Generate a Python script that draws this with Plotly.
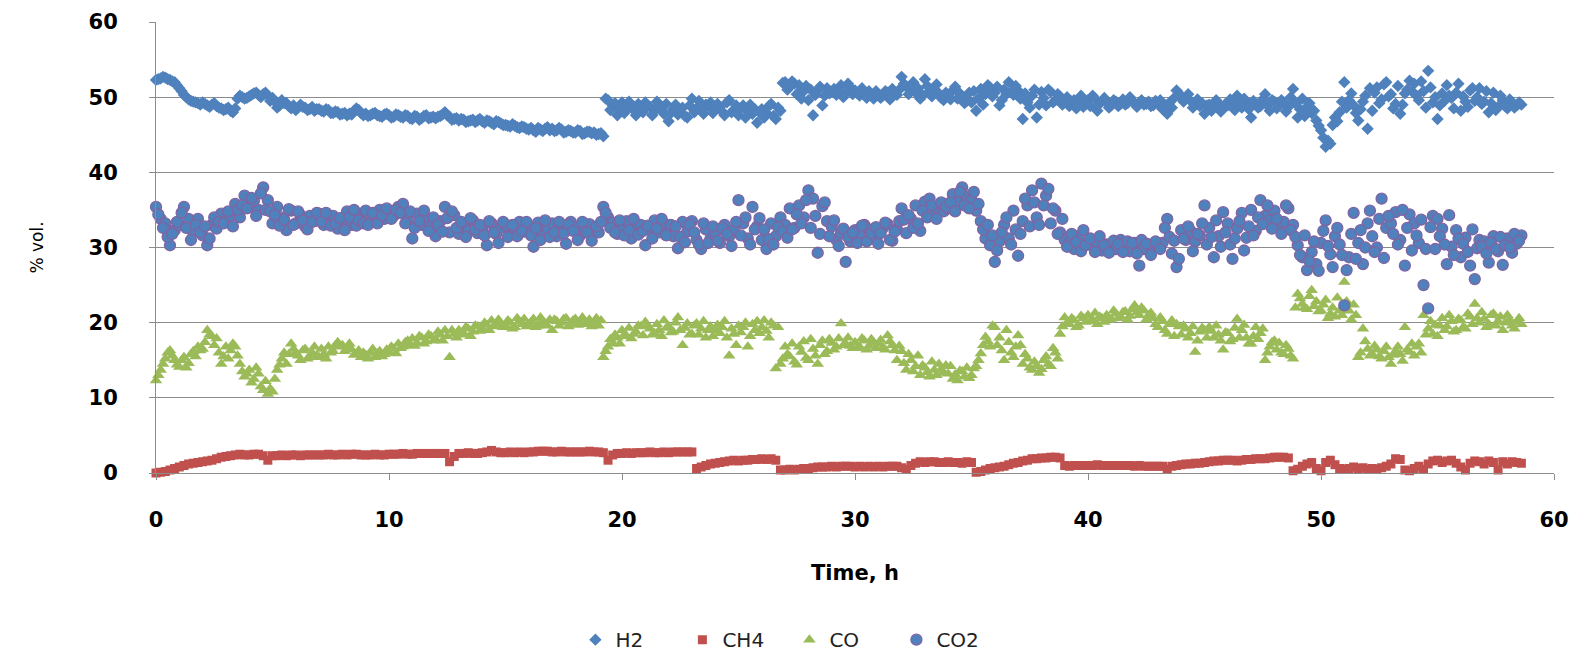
import plotly.graph_objects as go

# Sampling times (h): readings every 0.2 h from 0 to 58.6 h (pass A)
time_h = [round(0.2 * i, 1) for i in range(294)]
# and the interleaved readings at 0.1, 0.3, ... 58.5 h (pass B)
time_h_b = [round(0.2 * i + 0.1, 1) for i in range(293)]

h2_pct = [
    52.3, 52.5, 52.6, 52.3, 52.0,
    51.2, 50.3, 49.7, 49.4, 49.2,
    49.3, 48.9, 49.0, 48.8, 48.5,
    48.4, 48.2, 48.5, 50.2, 49.8,
    50.1, 50.5, 50.3, 50.4, 50.2,
    49.9, 48.6, 49.6, 49.2, 48.5,
    48.3, 49.0, 48.6, 48.4, 48.2,
    48.4, 48.1, 48.3, 47.9, 48.0,
    47.8, 47.6, 47.7, 48.5, 47.9,
    47.8, 47.6, 47.9, 47.5, 47.7,
    47.6, 47.4, 47.6, 47.3, 47.5,
    47.1, 47.4, 47.2, 47.6, 47.3,
    47.2, 47.5, 48.0, 47.4, 47.1,
    46.9, 47.0, 46.8, 47.0, 46.9,
    46.8, 46.9, 46.6, 46.8, 46.5,
    46.3, 46.1, 46.2, 45.9, 46.0,
    45.7, 45.6, 45.9, 45.5, 46.0,
    45.8, 45.6, 45.7, 45.4, 45.5,
    45.3, 45.5, 45.2, 45.4, 45.3,
    45.1, 44.8, 49.6, 48.9, 47.6,
    49.3, 48.6, 49.0, 47.6, 48.8,
    49.3, 48.7, 48.2, 49.0, 47.8,
    46.8, 48.4, 47.7, 48.6, 47.3,
    49.8, 48.5, 48.2, 49.0, 49.3,
    48.4, 48.7, 47.6, 49.6, 48.3,
    47.6, 48.9, 48.1, 47.8, 46.6,
    48.4, 47.9, 49.1, 47.1, 48.2,
    52.0, 51.4, 51.8, 51.6, 50.8,
    49.6, 47.6, 50.9, 48.9, 51.2,
    50.7, 50.3, 51.6, 50.6, 51.3,
    50.9, 50.2, 50.7, 50.8, 49.8,
    50.4, 50.2, 50.6, 51.1, 50.3,
    52.7, 51.4, 51.1, 50.6, 49.8,
    52.4, 50.8, 51.1, 50.5, 49.6,
    50.2, 50.9, 49.8, 50.1, 49.5,
    49.3, 48.2, 51.1, 50.4, 51.3,
    50.6, 48.9, 51.0, 52.0, 50.3,
    50.9, 47.1, 49.3, 50.2, 47.3,
    50.7, 48.9, 50.7, 49.6, 50.1,
    49.3, 48.8, 49.6, 49.1, 48.7,
    49.6, 50.2, 48.2, 49.5, 49.3,
    48.9, 49.4, 49.1, 49.0, 50.0,
    49.2, 49.3, 49.0, 49.4, 48.9,
    49.1, 48.4, 47.8, 48.6, 50.9,
    50.2, 49.8, 49.5, 49.1, 48.8,
    47.8, 49.0, 48.7, 49.2, 48.5,
    48.9, 49.4, 50.2, 48.6, 49.3,
    47.3, 49.0, 48.8, 50.4, 48.2,
    49.4, 48.9, 49.3, 48.7, 51.1,
    47.3, 49.8, 48.7, 47.9, 46.9,
    45.6, 43.4, 43.8, 47.3, 48.0,
    52.0, 49.6, 48.9, 46.9, 49.4,
    45.8, 48.2, 51.3, 49.7, 52.0,
    50.4, 49.1, 47.8, 50.5, 52.2,
    51.8, 49.6, 50.8, 53.5, 49.3,
    47.1, 50.5, 51.6, 49.9, 50.6,
    48.2, 49.4, 50.9, 49.5, 51.2,
    49.4, 48.0, 50.6, 48.7, 49.6,
    48.5, 49.1, 48.9, 49.0,
]

h2_pct_b = [
    52.4, 52.7, 52.4, 52.1, 51.6,
    50.8, 50.0, 49.5, 49.3, 49.0,
    49.1, 48.7, 49.2, 48.6, 48.3,
    48.6, 48.0, 49.8, 50.0, 49.9,
    50.3, 50.6, 50.0, 50.6, 49.5,
    49.4, 48.9, 49.2, 48.8, 48.9,
    48.6, 48.7, 48.3, 48.7, 48.4,
    48.2, 48.4, 47.9, 48.1, 47.7,
    47.9, 47.8, 48.2, 48.3, 47.6,
    47.5, 47.8, 47.6, 47.4, 47.8,
    47.3, 47.7, 47.4, 47.6, 47.2,
    47.5, 47.0, 47.5, 47.2, 47.4,
    47.4, 47.7, 47.6, 47.0, 47.2,
    47.1, 46.7, 46.9, 46.7, 47.1,
    46.6, 46.8, 46.4, 46.7, 46.3,
    46.2, 46.4, 46.0, 46.1, 45.8,
    45.9, 45.4, 45.7, 45.8, 45.6,
    45.5, 45.9, 45.3, 45.6, 45.3,
    45.6, 45.1, 45.4, 45.2, 45.0,
    45.2, 49.8, 48.3, 49.2, 48.4,
    47.9, 49.4, 48.3, 49.1, 48.0,
    48.9, 47.6, 49.4, 48.3, 49.1,
    47.9, 49.0, 48.1, 47.5, 48.9,
    48.0, 49.5, 47.8, 48.8, 47.9,
    49.1, 48.1, 49.3, 48.0, 48.9,
    48.5, 47.3, 49.0, 48.4, 48.0,
    47.3, 48.8, 47.5, 48.6, 51.9,
    51.0, 52.1, 50.4, 49.8, 51.5,
    51.0, 50.3, 51.4, 50.2, 50.5,
    51.1, 50.9, 50.0, 51.8, 50.4,
    50.5, 51.2, 49.9, 50.3, 50.8,
    49.9, 50.8, 49.7, 50.5, 51.0,
    51.8, 50.4, 52.0, 51.2, 50.3,
    51.5, 50.1, 51.7, 49.9, 50.6,
    49.7, 51.4, 50.5, 49.2, 50.6,
    50.8, 49.8, 49.0, 51.6, 50.1,
    51.4, 49.6, 50.4, 50.7, 51.5,
    49.8, 50.5, 48.6, 51.0, 49.0,
    49.9, 51.0, 49.3, 50.4, 49.0,
    50.0, 49.4, 48.5, 50.2, 49.4,
    48.8, 49.8, 49.1, 49.9, 48.6,
    49.6, 48.8, 49.7, 49.2, 49.5,
    48.7, 49.6, 49.1, 48.8, 49.5,
    49.6, 48.9, 49.3, 49.9, 50.2,
    49.4, 50.4, 48.6, 49.7, 49.2,
    48.9, 48.2, 49.6, 48.1, 49.1,
    49.7, 48.3, 49.0, 49.8, 48.4,
    49.5, 48.6, 49.7, 48.9, 49.6,
    48.5, 49.6, 48.1, 50.0, 49.2,
    48.4, 47.5, 49.2, 48.2, 46.2,
    44.6, 44.2, 46.3, 46.8, 49.4,
    48.6, 50.5, 47.9, 48.4, 50.2,
    51.2, 50.6, 49.2, 51.7, 50.1,
    48.5, 51.5, 49.0, 51.0, 50.8,
    50.2, 52.1, 48.6, 51.3, 50.0,
    48.9, 49.5, 50.2, 48.5, 51.8,
    50.1, 48.7, 51.2, 50.0, 49.1,
    50.8, 49.2, 48.3, 50.2, 48.8,
    49.7, 48.6, 49.3,
]

ch4_pct = [
    0.0, 0.1, 0.2, 0.4, 0.6,
    0.8, 1.0, 1.2, 1.3, 1.4,
    1.5, 1.6, 1.7, 1.9, 2.1,
    2.2, 2.3, 2.4, 2.5, 2.4,
    2.4, 2.5, 2.5, 2.3, 1.7,
    2.3, 2.3, 2.4, 2.3, 2.4,
    2.4, 2.3, 2.4, 2.4, 2.4,
    2.4, 2.4, 2.5, 2.4, 2.4,
    2.5, 2.4, 2.5, 2.5, 2.4,
    2.4, 2.4, 2.5, 2.4, 2.4,
    2.5, 2.5, 2.5, 2.6, 2.5,
    2.5, 2.6, 2.6, 2.6, 2.6,
    2.6, 2.6, 2.6, 1.5, 2.2,
    2.6, 2.6, 2.7, 2.6, 2.6,
    2.7, 2.8, 3.0, 2.8, 2.7,
    2.7, 2.8, 2.7, 2.8, 2.7,
    2.8, 2.8, 2.9, 2.9, 2.9,
    2.8, 2.8, 2.9, 2.8, 2.8,
    2.8, 2.8, 2.8, 2.9, 2.8,
    2.8, 2.7, 1.7, 2.4, 2.6,
    2.6, 2.7, 2.6, 2.7, 2.7,
    2.7, 2.8, 2.7, 2.7, 2.8,
    2.7, 2.8, 2.8, 2.8, 2.8,
    2.8, 0.6, 0.8, 1.0, 1.2,
    1.3, 1.4, 1.5, 1.6, 1.7,
    1.6, 1.7, 1.7, 1.8, 1.8,
    1.9, 1.8, 1.9, 1.7, 0.4,
    0.4, 0.5, 0.4, 0.5, 0.6,
    0.6, 0.7, 0.8, 0.8, 0.8,
    0.9, 0.8, 0.9, 0.9, 0.9,
    0.8, 0.9, 0.8, 0.9, 0.8,
    0.9, 0.8, 0.9, 0.9, 0.9,
    0.7, 0.5, 1.0, 1.3, 1.5,
    1.4, 1.5, 1.5, 1.4, 1.4,
    1.5, 1.4, 1.4, 1.3, 1.5,
    1.4, 0.1, 0.2, 0.4, 0.6,
    0.7, 0.8, 0.9, 1.1, 1.3,
    1.4, 1.6, 1.7, 1.9, 1.9,
    2.0, 2.0, 2.1, 2.1, 2.0,
    1.0, 0.9, 1.0, 1.0, 1.0,
    1.0, 1.0, 1.1, 1.0, 1.0,
    1.0, 1.0, 1.0, 1.0, 1.0,
    0.9, 1.0, 0.9, 0.9, 0.9,
    0.9, 0.9, 0.5, 0.9, 1.0,
    1.1, 1.2, 1.2, 1.3, 1.3,
    1.4, 1.5, 1.6, 1.6, 1.7,
    1.7, 1.7, 1.6, 1.7, 1.8,
    1.8, 1.9, 1.9, 1.9, 2.0,
    2.1, 2.1, 2.1, 2.0, 0.3,
    0.5, 0.9, 1.2, 1.4, 0.6,
    0.3, 1.4, 1.7, 1.1, 0.6,
    0.5, 0.6, 0.8, 0.6, 0.7,
    0.5, 0.6, 0.5, 0.7, 0.9,
    1.2, 1.9, 1.8, 0.4, 0.3,
    0.6, 0.9, 0.5, 1.2, 1.6,
    1.7, 1.4, 1.6, 1.7, 1.3,
    0.8, 0.4, 1.3, 1.6, 1.5,
    1.2, 1.6, 1.4, 0.4, 1.5,
    1.2, 1.5, 1.4, 1.3,
]

co_pct = [
    12.3, 13.7, 15.2, 16.3, 15.0,
    14.1, 15.4, 14.6, 16.2, 16.8,
    16.5, 19.0, 18.2, 17.9, 14.5,
    16.8, 16.3, 16.8, 14.5, 12.8,
    13.7, 12.5, 13.2, 11.0, 10.5,
    10.8, 13.7, 15.2, 14.5, 17.2,
    16.0, 15.0, 16.5, 15.4, 16.8,
    15.4, 15.8, 16.8, 16.2, 17.4,
    17.0, 16.6, 16.4, 15.8, 15.4,
    15.7, 16.0, 15.4, 16.2, 15.8,
    16.0, 16.5, 17.2, 16.8, 17.6,
    17.9, 17.3, 18.0, 17.5, 18.2,
    17.8, 18.4, 19.0, 15.4, 18.5,
    19.0, 18.6, 19.2, 18.8, 19.5,
    19.2, 19.7, 20.3, 19.5, 19.8,
    19.6, 20.0, 19.4, 20.2, 20.5,
    19.8, 20.5, 19.6, 20.2, 19.6,
    19.0, 20.2, 20.0, 20.6, 19.8,
    20.5, 20.2, 19.8, 20.4, 20.1,
    19.6, 15.4, 16.8, 17.2, 18.0,
    19.0, 18.2, 17.9, 18.8, 19.5,
    20.1, 19.2, 18.6, 19.0, 20.3,
    19.5, 18.8, 20.7, 17.0, 19.9,
    18.5, 19.9, 19.2, 18.0, 19.5,
    19.0, 18.6, 20.2, 15.6, 18.5,
    19.6, 19.4, 16.8, 19.8, 20.2,
    19.4, 18.9, 20.0, 13.9, 14.5,
    16.8, 15.5, 14.8, 16.8, 17.5,
    15.0, 16.5, 14.5, 17.6, 16.2,
    17.3, 16.8, 19.9, 17.2, 16.9,
    17.4, 16.8, 17.6, 16.9, 17.4,
    17.2, 16.7, 18.3, 17.0, 15.0,
    16.2, 13.7, 15.0, 14.2, 13.0,
    14.0, 12.8, 13.7, 14.5, 13.3,
    13.2, 12.5, 12.3, 13.5, 14.0,
    13.0, 14.2, 15.9, 18.1, 16.8,
    19.4, 18.0, 15.0, 17.4, 15.4,
    18.3, 14.5, 15.2, 13.7, 14.2,
    13.8, 15.5, 14.2, 16.0, 18.5,
    20.7, 19.8, 20.3, 19.6, 20.6,
    21.0, 20.4, 19.8, 20.6, 21.0,
    20.5, 21.2, 20.8, 21.5, 20.9,
    22.3, 21.0, 21.6, 21.0, 20.6,
    19.4, 20.2, 18.5, 20.3, 19.8,
    18.4, 19.2, 18.6, 16.1, 18.8,
    19.0, 19.4, 18.0, 18.4, 16.4,
    18.6, 17.8, 20.5, 19.0, 18.0,
    17.2, 19.4, 18.6, 15.0, 16.8,
    17.6, 17.3, 15.8, 16.5, 15.2,
    23.8, 22.5, 21.8, 24.3, 22.8,
    21.6, 23.0, 21.2, 20.8, 21.6,
    25.4, 21.6, 22.4, 15.4, 19.2,
    16.5, 15.8, 16.4, 15.2, 16.8,
    14.5, 16.2, 15.8, 19.4, 16.1,
    15.6, 17.2, 21.0, 19.2, 18.5,
    18.2, 20.6, 19.5, 20.2, 19.0,
    20.3, 19.2, 20.8, 22.5, 20.0,
    20.5, 19.8, 21.2, 20.2, 19.0,
    21.0, 19.6, 20.1, 19.8,
]

co_pct_b = [
    13.0, 14.5, 16.0, 15.6, 14.4,
    15.0, 14.0, 15.8, 15.5, 16.3,
    17.4, 18.4, 17.0, 16.0, 15.5,
    15.2, 17.2, 15.6, 13.5, 13.2,
    12.0, 14.0, 11.5, 12.2, 11.2,
    12.5, 14.4, 16.0, 15.8, 16.5,
    15.6, 16.3, 15.2, 16.0, 15.6,
    16.5, 15.2, 16.0, 17.0, 16.8,
    16.2, 17.2, 15.7, 16.3, 16.0,
    15.2, 16.5, 15.9, 15.5, 16.4,
    16.8, 15.9, 16.6, 17.4, 17.0,
    16.9, 18.2, 17.2, 18.4, 17.6,
    18.8, 17.6, 18.2, 19.0, 18.0,
    18.4, 19.4, 18.2, 19.6, 18.9,
    20.0, 19.0, 19.6, 20.4, 19.4,
    20.3, 19.2, 20.6, 19.8, 19.5,
    20.1, 19.4, 20.7, 19.9, 20.4,
    20.4, 19.6, 20.5, 19.5, 20.3,
    19.7, 20.7, 20.0, 19.5, 20.6,
    20.3, 16.2, 17.8, 18.4, 17.2,
    18.4, 19.3, 18.5, 19.6, 18.3,
    19.6, 18.4, 19.8, 18.2, 19.3,
    18.7, 20.0, 19.0, 19.3, 18.4,
    19.6, 18.4, 20.2, 19.0, 18.2,
    19.7, 19.4, 18.0, 19.2, 17.0,
    18.7, 20.0, 18.2, 19.0, 18.6,
    20.3, 18.0, 19.6, 19.4, 15.2,
    15.8, 17.2, 14.4, 16.1, 15.3,
    17.8, 15.6, 17.0, 15.8, 17.8,
    16.4, 17.9, 17.0, 18.0, 16.6,
    16.6, 17.9, 16.4, 17.8, 16.6,
    17.7, 16.4, 17.5, 16.3, 16.9,
    14.6, 15.8, 13.5, 15.6, 14.3,
    13.4, 14.8, 13.0, 13.8, 14.3,
    14.2, 13.1, 13.6, 12.8, 12.6,
    13.9, 15.0, 17.0, 17.5, 19.6,
    17.0, 16.3, 19.0, 16.0, 16.8,
    17.0, 15.8, 14.0, 14.8, 13.3,
    15.0, 14.5, 16.6, 15.2, 19.5,
    20.0, 20.6, 19.4, 20.9, 20.1,
    20.2, 21.3, 20.8, 20.1, 20.4,
    21.6, 20.6, 21.4, 20.4, 21.8,
    21.4, 22.0, 20.4, 21.3, 19.8,
    20.7, 19.0, 19.8, 18.2, 19.5,
    19.6, 18.0, 19.5, 17.6, 19.3,
    18.0, 18.9, 19.6, 17.6, 18.7,
    17.5, 19.3, 18.0, 19.7, 17.2,
    18.2, 17.8, 19.2, 16.0, 17.4,
    16.4, 16.0, 17.0, 15.6, 22.0,
    23.2, 22.0, 23.5, 22.2, 21.5,
    22.4, 20.6, 22.0, 23.3, 21.0,
    22.8, 20.4, 21.0, 16.0, 17.5,
    15.6, 16.9, 15.5, 16.2, 15.4,
    15.7, 16.8, 14.9, 16.4, 17.2,
    16.8, 16.0, 18.4, 20.2, 19.7,
    19.6, 19.0, 21.0, 18.8, 20.5,
    19.4, 21.2, 19.8, 20.6, 21.4,
    19.4, 21.0, 19.6, 20.8, 20.0,
    20.4, 19.2, 20.6,
]

co2_pct = [
    35.4, 33.8, 33.2, 30.3, 32.3,
    33.0, 35.4, 33.8, 32.0, 33.8,
    31.6, 30.3, 33.0, 32.5, 34.5,
    33.6, 34.2, 35.8, 34.0, 36.9,
    35.4, 36.2, 35.0, 38.0, 36.3,
    33.2, 35.4, 34.0, 32.3, 34.9,
    33.2, 34.3, 32.8, 34.2, 33.5,
    34.5, 33.0, 33.8, 34.2, 32.5,
    33.4, 34.8, 33.0, 32.9, 34.5,
    34.9, 33.5, 34.4, 35.0, 33.8,
    34.9, 34.2, 35.4, 35.8, 33.6,
    31.2, 34.5, 33.0, 33.8, 32.8,
    31.5, 33.5, 35.4, 32.0, 34.3,
    31.8, 33.0, 32.2, 33.6, 31.9,
    32.5, 30.3, 33.2, 31.8, 32.6,
    33.0, 31.7, 32.5, 33.4, 32.1,
    32.8, 30.1, 33.3, 32.0, 32.5,
    33.2, 31.5, 32.6, 30.5, 33.4,
    32.7, 31.6, 32.4, 33.1, 31.9,
    32.0, 35.4, 34.0, 33.3, 31.8,
    32.6, 33.5, 31.2, 32.8, 33.0,
    30.3, 32.4, 33.6, 32.0, 33.2,
    32.2, 31.5, 29.9, 33.4, 32.1,
    33.5, 31.0, 29.8, 32.4, 31.2,
    32.0, 30.6, 33.0, 31.5, 32.4,
    36.3, 33.2, 31.2, 35.4, 32.8,
    31.0, 29.8, 33.2, 31.5, 34.0,
    33.0, 35.2, 32.6, 35.6, 34.0,
    37.6, 36.5, 29.3, 35.5, 33.5,
    32.8, 31.0, 31.9, 28.1, 30.8,
    32.3, 31.6, 33.0, 32.4, 31.2,
    30.5, 32.6, 33.1, 30.9, 32.4,
    35.2, 31.9, 33.8, 35.6, 32.2,
    36.1, 36.5, 34.6, 35.0, 34.8,
    35.2, 37.1, 36.0, 38.0, 36.8,
    36.3, 34.9, 33.5, 31.2, 30.3,
    28.1, 30.8, 33.0, 31.2, 34.9,
    28.9, 33.5, 35.6, 37.6, 34.0,
    38.5, 36.9, 33.2, 34.9, 32.0,
    31.0, 30.6, 29.8, 31.5, 32.3,
    30.6, 30.2, 30.8, 29.6, 30.4,
    30.1, 29.8, 31.0, 30.2, 29.5,
    30.6, 27.6, 29.8, 30.4, 30.1,
    30.3, 30.6, 33.8, 29.2, 27.4,
    32.3, 31.0, 32.2, 30.8, 31.6,
    35.6, 32.6, 28.7, 31.5, 34.7,
    33.2, 28.5, 32.5, 34.6, 31.3,
    35.0, 32.2, 36.3, 34.2, 33.6,
    34.9, 32.8, 33.4, 35.2, 33.0,
    30.3, 28.7, 27.0, 29.4, 27.8,
    30.6, 33.6, 29.1, 31.5, 30.4,
    22.3, 28.7, 34.6, 30.6, 27.8,
    33.2, 31.5, 30.0, 36.5, 32.6,
    33.2, 34.7, 31.0, 27.6, 34.4,
    33.2, 30.6, 25.0, 21.9, 34.2,
    33.8, 32.5, 27.8, 30.1, 32.3,
    28.7, 31.3, 27.6, 25.8, 31.0,
    30.8, 28.0, 31.5, 29.5, 27.7,
    31.2, 29.3, 30.5, 31.6,
]

co2_pct_b = [
    34.4, 32.6, 31.4, 31.8, 33.4,
    34.6, 32.6, 31.0, 33.0, 32.0,
    32.8, 31.2, 34.0, 33.4, 33.2,
    34.8, 32.8, 35.0, 35.6, 35.2,
    36.6, 34.2, 37.2, 35.0, 34.8,
    34.3, 32.9, 33.7, 35.1, 33.0,
    34.8, 33.6, 32.4, 33.4, 34.6,
    33.4, 34.6, 32.9, 33.2, 33.9,
    32.3, 34.0, 35.0, 33.6, 33.2,
    33.0, 34.6, 33.2, 34.3, 35.2,
    33.8, 35.0, 34.6, 33.2, 34.8,
    32.6, 33.5, 34.9, 32.2, 34.0,
    33.0, 32.1, 33.9, 34.8, 32.6,
    33.4, 31.4, 33.9, 32.4, 33.0,
    31.6, 33.5, 32.0, 30.6, 33.4,
    31.4, 33.0, 31.5, 32.2, 33.4,
    31.6, 32.6, 31.0, 33.6, 31.4,
    32.0, 33.4, 31.9, 33.1, 32.2,
    31.0, 33.4, 32.0, 30.9, 32.8,
    33.4, 34.6, 32.6, 32.0, 33.6,
    31.6, 32.3, 33.8, 31.7, 32.2,
    32.9, 31.2, 32.5, 33.8, 31.6,
    33.0, 32.8, 31.4, 30.7, 33.0,
    32.0, 30.4, 33.2, 30.6, 32.8,
    30.9, 32.6, 31.8, 30.2, 33.4,
    31.6, 34.0, 30.4, 32.4, 33.9,
    32.4, 31.1, 30.4, 32.7, 32.1,
    31.3, 32.4, 34.4, 33.2, 36.3,
    32.6, 34.2, 31.8, 36.0, 31.5,
    33.6, 30.2, 32.5, 31.4, 32.0,
    30.6, 32.9, 30.8, 31.9, 32.7,
    31.9, 33.3, 31.0, 32.1, 33.5,
    33.7, 34.3, 32.6, 33.2, 34.9,
    34.0, 35.6, 33.8, 36.0, 35.4,
    36.0, 34.8, 37.4, 35.6, 35.2,
    37.4, 35.8, 32.4, 33.0, 31.6,
    29.6, 32.0, 34.0, 30.4, 32.4,
    31.8, 36.5, 32.8, 36.0, 33.0,
    35.6, 37.8, 35.2, 31.8, 33.8,
    30.1, 31.8, 30.7, 29.5, 30.3,
    31.2, 29.4, 31.5, 30.3, 29.3,
    30.9, 30.5, 29.4, 30.8, 30.6,
    29.2, 31.0, 30.5, 29.0, 30.8,
    29.8, 32.6, 31.4, 30.9, 28.5,
    31.2, 32.8, 29.5, 31.8, 33.2,
    30.4, 31.4, 33.6, 30.1, 32.0,
    30.4, 31.2, 33.5, 29.6, 32.8,
    31.6, 34.0, 33.1, 35.6, 32.5,
    33.8, 31.8, 35.6, 32.3, 31.4,
    29.0, 31.6, 28.2, 30.8, 26.9,
    32.2, 30.2, 27.4, 32.6, 29.0,
    27.0, 31.8, 28.5, 32.3, 30.0,
    34.9, 29.4, 33.8, 28.6, 34.2,
    31.8, 30.4, 35.0, 32.6, 29.6,
    31.6, 33.7, 29.8, 32.7, 29.8,
    31.5, 30.4, 34.3, 29.0, 31.2,
    30.5, 29.4, 32.4, 29.9, 30.1,
    29.2, 30.6, 29.8, 31.4, 30.3,
    30.0, 31.8, 30.9,
]

x_ticks = [0, 10, 20, 30, 40, 50, 60]
y_ticks = [0, 10, 20, 30, 40, 50, 60]

for name, arr in [("h2", h2_pct), ("ch4", ch4_pct), ("co", co_pct), ("co2", co2_pct)]:
    assert len(arr) == len(time_h), (name, len(arr))
for name, arr in [("h2b", h2_pct_b), ("cob", co_pct_b), ("co2b", co2_pct_b)]:
    assert len(arr) == len(time_h_b), (name, len(arr))

GRID = "#8c8c8c"
FONT = "DejaVu Sans"

fig = go.Figure()
fig.add_trace(go.Scatter(
    x=time_h + time_h_b, y=h2_pct + h2_pct_b, name="H2", mode="markers", cliponaxis=False,
    marker=dict(symbol="diamond", size=9.5, color="#4F81BD", line=dict(width=0))))
fig.add_trace(go.Scatter(
    x=time_h, y=ch4_pct, name="CH4", mode="markers", cliponaxis=False,
    marker=dict(symbol="square", size=9, color="#C0504D", line=dict(width=0))))
fig.add_trace(go.Scatter(
    x=time_h + time_h_b, y=co_pct + co_pct_b, name="CO", mode="markers", cliponaxis=False,
    marker=dict(symbol="triangle-up", size=11, color="#9BBB59", line=dict(width=0))))
fig.add_trace(go.Scatter(
    x=time_h + time_h_b, y=co2_pct + co2_pct_b, name="CO2", mode="markers", cliponaxis=False,
    marker=dict(symbol="circle", size=11, color="#4F81BD",
                line=dict(width=1.3, color="#8064A2"))))

fig.update_layout(
    width=1585, height=658,
    margin=dict(l=148, r=39, t=14, b=193, autoexpand=False),
    paper_bgcolor="white", plot_bgcolor="white",
    font=dict(family=FONT, color="black"),
    showlegend=True,
    legend=dict(orientation="h", xref="container", yref="container",
                x=0.493, xanchor="center", y=0.04, yanchor="middle",
                font=dict(size=20, family=FONT, color="#222"),
                itemwidth=30, entrywidth=62, entrywidthmode="pixels",
                itemsizing="trace", traceorder="normal"),
)
fig.update_xaxes(
    range=[0, 60], tickvals=x_ticks, ticks="outside", ticklen=6, tickcolor=GRID,
    showgrid=False, showline=True, linecolor=GRID, linewidth=1,
    zeroline=False, ticklabelstandoff=22,
    tickfont=dict(size=21, family=FONT, weight="bold"),
    title=dict(text="Time, h", standoff=34,
               font=dict(size=21, family=FONT, weight="bold")),
    automargin=False,
)
fig.update_yaxes(
    range=[0, 60], tickvals=y_ticks, ticks="outside", ticklen=6, tickcolor=GRID,
    showgrid=True, gridcolor=GRID, gridwidth=1,
    showline=True, linecolor=GRID, linewidth=1,
    zeroline=False, ticklabelstandoff=27,
    tickfont=dict(size=21, family=FONT, weight="bold"),
    title=dict(text="% vol.", standoff=40, font=dict(size=17, family=FONT)),
    automargin=False,
)

fig.write_html("out.html")
